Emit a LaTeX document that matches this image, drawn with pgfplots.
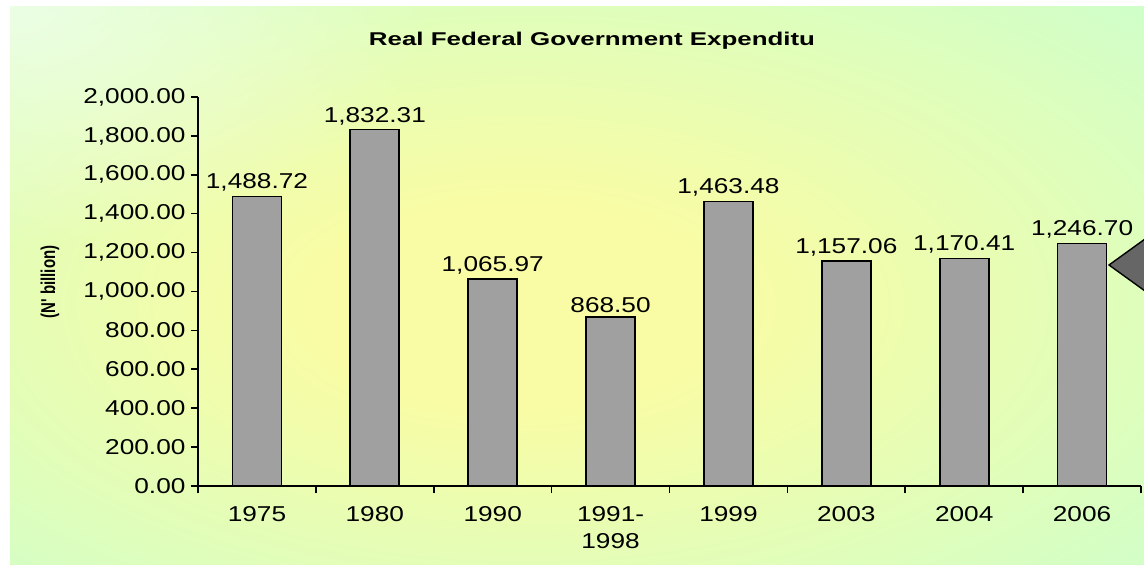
\documentclass[border=0pt]{standalone}
\usepackage{fontspec}
\setmainfont{Liberation Sans}[FakeStretch=1.22]
\newfontfamily\titlefont{Liberation Sans}[FakeStretch=1.40]
\newfontfamily\condfont{Liberation Sans}[FakeStretch=0.75]
\usepackage{pgfplots}
\pgfplotsset{compat=1.18}
\usetikzlibrary{fadings}
\tikzfading[name=myfade, inner color=transparent!0, outer color=transparent!100]
\definecolor{bgyel}{HTML}{F9FCA4}
\definecolor{bggrn}{HTML}{CCFFCC}
\definecolor{bargray}{HTML}{A0A0A0}
\definecolor{trigray}{HTML}{666666}
\pgfdeclareradialshading{bgshade}{\pgfpoint{-3bp}{-2bp}}{color(0bp)=(bgyel); color(9bp)=(bgyel); color(26bp)=(bgyel!45!bggrn); color(40bp)=(bggrn); color(100bp)=(bggrn)}
\begin{document}
\begin{tikzpicture}[x=1pt,y=1pt]
\useasboundingbox (0,0) rectangle (1144,565);
\fill[white] (0,0) rectangle (1144,565);
\shade[shading=bgshade] (10,0) rectangle (1144,558);
\begin{scope}
\clip (10,0) rectangle (1144,558);
\fill[white, opacity=0.55, path fading=myfade] (10,558) ellipse [x radius=420, y radius=240];
\end{scope}
\node[font=\titlefont\bfseries\fontsize{18.5}{20}\selectfont] at (592,524) {Real Federal Government Expenditu};
\node[rotate=90, font=\condfont\bfseries\fontsize{20}{22}\selectfont] at (50,283) {(N' billion)};
\begin{axis}[at={(198pt,79pt)}, anchor=south west, scale only axis,
  width=943pt, height=389pt,
  xmin=-0.5, xmax=7.5, ymin=0, ymax=2000,
  axis lines*=left,
  axis line style={line width=1.6pt, black},
  tick align=outside, major tick length=7pt,
  tick style={black, line width=1.6pt},
  ytick={0,200,...,2000},
  xtick={-0.5,0.5,...,7.5},
  x tick label as interval,
  xticklabels={1975,1980,1990,{1991-\\1998},1999,2003,2004,2006},
  xticklabel style={align=center, yshift=-10pt},
  tick label style={font=\fontsize{21.5}{27}\selectfont},
  yticklabel style={xshift=-2pt, /pgf/number format/.cd, fixed, fixed zerofill, precision=2, 1000 sep={,}, assume math mode=true},
  ybar, bar width=49pt, bar shift=0pt,
  point meta=explicit symbolic,
  nodes near coords,
  nodes near coords style={font=\fontsize{21.5}{25}\selectfont, inner sep=4pt},
  clip=false,
]
\addplot[draw=black, line width=1.7pt, fill=bargray] coordinates {
 (0,1488.72) [1,488.72]
 (1,1832.31) [1,832.31]
 (2,1065.97) [1,065.97]
 (3,868.50) [868.50]
 (4,1463.48) [1,463.48]
 (5,1157.06) [1,157.06]
 (6,1170.41) [1,170.41]
 (7,1246.70) [1,246.70]
};
\end{axis}
\fill[trigray] (1145,326) -- (1109,300) -- (1145,274) -- cycle;
\draw[black, line width=1.4pt] (1145,326) -- (1109,300) -- (1145,274);
\end{tikzpicture}
\end{document}
